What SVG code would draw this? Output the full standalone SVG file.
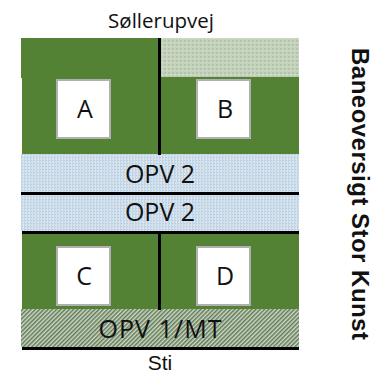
<svg xmlns="http://www.w3.org/2000/svg" width="374" height="374" viewBox="0 0 374 374">
<style>
text{font-family:"Open Sans","Noto Sans",sans-serif;fill:#111;text-anchor:middle}
.green{fill:#548235}
.box{fill:#fff;stroke:#b0b0b0;stroke-width:2}
.l{stroke:#000;stroke-width:3;fill:none}
.big{font-size:25px}
.sm{font-size:20.500px}
.edge{font-family:"Liberation Sans",sans-serif}
</style>
<defs>
<pattern id="blue" width="3" height="3" patternUnits="userSpaceOnUse"><rect width="3" height="3" fill="#d6e4f0"/><rect width="1" height="3" fill="#c3d4e4"/><rect x="1" y="1" width="1" height="1" fill="#b7cadb"/></pattern>
<pattern id="sage" width="4" height="4" patternUnits="userSpaceOnUse"><rect width="4" height="4" fill="#c5d3bd"/><rect width="2" height="2" fill="#b3c4ad"/><rect x="2" y="2" width="1" height="1" fill="#dde5d8"/></pattern>
<pattern id="diag" width="3" height="3" patternUnits="userSpaceOnUse" patternTransform="rotate(-45)"><rect width="3" height="3" fill="#d0d8c8"/><rect width="3" height="1.500" fill="#5f7a55"/></pattern>
</defs>
<g id="field">
<rect class="green" x="21" y="38" width="140" height="40"/>
<rect class="green" x="22" y="77" width="277" height="77"/>
<rect class="green" x="22" y="234" width="277" height="75"/>
<rect x="161" y="38" width="138" height="39" fill="url(#sage)"/>
</g>
<g id="opv2a"><rect x="21" y="154" width="278" height="38" fill="url(#blue)"/><text class="big" x="160" y="183">OPV 2</text></g>
<g id="opv2b"><rect x="21" y="194" width="278" height="37" fill="url(#blue)"/><text class="big" x="160" y="221">OPV 2</text></g>
<g id="opv1"><rect x="21" y="309" width="278" height="38" fill="url(#diag)"/><text class="big" x="160" y="338" textLength="123">OPV 1/MT</text></g>
<g id="connectors">
<path class="l" d="M159.500 38V155M21 193.500H299M22 232.500H299M159.500 234V310M22 348.500H299"/>
</g>
<g id="A"><rect class="box" x="57" y="80" width="53" height="58"/><text class="big" x="85" y="118">A</text></g>
<g id="B"><rect class="box" x="197" y="80" width="53" height="58"/><text class="big" x="225" y="118">B</text></g>
<g id="C"><rect class="box" x="57" y="247" width="53" height="58"/><text class="big" x="84" y="285">C</text></g>
<g id="D"><rect class="box" x="197" y="247" width="53" height="58"/><text class="big" x="225" y="285">D</text></g>
<g id="labels">
<text class="sm" x="161" y="28">Søllerupvej</text>
<text class="edge" x="160" y="369.500" font-size="21">Sti</text>
<text class="edge" transform="translate(352 194) rotate(90)" font-size="24" font-weight="700" textLength="292">Baneoversigt Stor Kunst</text>
</g>
</svg>
